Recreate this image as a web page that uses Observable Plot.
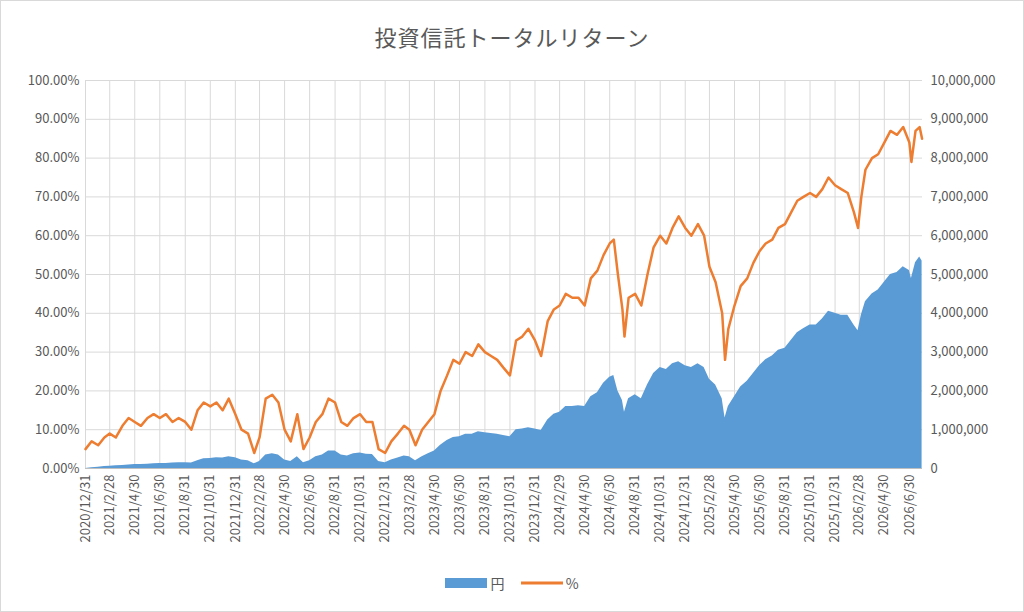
<!DOCTYPE html>
<html><head><meta charset="utf-8">
<script src="https://cdn.jsdelivr.net/npm/d3@7"></script>
<script src="https://cdn.jsdelivr.net/npm/@observablehq/plot@0.6"></script>
<style>
body{margin:0;background:#fff;font-family:"Noto Sans CJK JP",sans-serif;}
#wrap{width:1022px;height:610px;border:1px solid #d9d9d9;position:relative;overflow:hidden}
#title{height:60px;line-height:70px;text-align:center;font-size:22px;color:#595959;letter-spacing:1px}
#legend{position:absolute;top:572px;left:0;width:1022px;text-align:center;font-size:14px;color:#595959}
#legend span{display:inline-flex;align-items:center;margin:0 8px}
</style></head><body>
<div id="wrap"><div id="title">投資信託トータルリターン</div><div id="chart"></div>
<div id="legend"><span><svg width="42" height="12"><rect x="0" y="1" width="42" height="10" fill="#5B9BD5"/></svg>&nbsp;円</span><span><svg width="42" height="12"><line x1="0" x2="42" y1="6" y2="6" stroke="#ED7D31" stroke-width="3"/></svg>&nbsp;%</span></div></div>
<script>
const dates=["2020-12-31","2021-01-15","2021-01-31","2021-02-15","2021-02-28","2021-03-15","2021-03-31","2021-04-15","2021-04-30","2021-05-15","2021-05-31","2021-06-15","2021-06-30","2021-07-15","2021-07-31","2021-08-15","2021-08-31","2021-09-15","2021-09-30","2021-10-15","2021-10-31","2021-11-15","2021-11-30","2021-12-15","2021-12-31","2022-01-15","2022-01-31","2022-02-15","2022-02-28","2022-03-15","2022-03-31","2022-04-15","2022-04-30","2022-05-15","2022-05-31","2022-06-15","2022-06-30","2022-07-15","2022-07-31","2022-08-15","2022-08-31","2022-09-15","2022-09-30","2022-10-15","2022-10-31","2022-11-15","2022-11-30","2022-12-15","2022-12-31","2023-01-15","2023-01-31","2023-02-15","2023-02-28","2023-03-15","2023-03-31","2023-04-15","2023-04-30","2023-05-15","2023-05-31","2023-06-15","2023-06-30","2023-07-15","2023-07-31","2023-08-15","2023-08-31","2023-09-15","2023-09-30","2023-10-15","2023-10-31","2023-11-15","2023-11-30","2023-12-15","2023-12-31","2024-01-15","2024-01-31","2024-02-15","2024-02-29","2024-03-15","2024-03-31","2024-04-15","2024-04-30","2024-05-15","2024-05-31","2024-06-15","2024-06-30","2024-07-10","2024-07-20","2024-07-31","2024-08-05","2024-08-15","2024-08-31","2024-09-15","2024-09-30","2024-10-15","2024-10-31","2024-11-15","2024-11-30","2024-12-15","2024-12-31","2025-01-15","2025-01-31","2025-02-15","2025-02-28","2025-03-15","2025-03-31","2025-04-07","2025-04-15","2025-04-30","2025-05-15","2025-05-31","2025-06-15","2025-06-30","2025-07-15","2025-07-31","2025-08-15","2025-08-31","2025-09-15","2025-09-30","2025-10-15","2025-10-31","2025-11-15","2025-11-30","2025-12-15","2025-12-31","2026-01-15","2026-01-31","2026-02-15","2026-02-25","2026-03-05","2026-03-15","2026-03-31","2026-04-15","2026-04-30","2026-05-15","2026-05-31","2026-06-15","2026-06-30","2026-07-05","2026-07-15","2026-07-25","2026-07-31"];
const pct=[5,7,6,8,9,8,11,13,12,11,13,14,13,14,12,13,12,10,15,17,16,17,15,18,14,10,9,4,8,18,19,17,10,7,14,5,8,12,14,18,17,12,11,13,14,12,12,5,4,7,9,11,10,6,10,12,14,20,24,28,27,30,29,32,30,29,28,26,24,33,34,36,33,29,38,41,42,45,44,44,42,49,51,55,58,59,50,41,34,44,45,42,50,57,60,58,62,65,62,60,63,60,52,48,40,28,36,42,47,49,53,56,58,59,62,63,66,69,70,71,70,72,75,73,72,71,66,62,70,77,80,81,84,87,86,88,84,79,87,88,85];
const yenM=[0,0.02,0.03,0.05,0.06,0.07,0.08,0.09,0.1,0.1,0.11,0.12,0.13,0.13,0.14,0.15,0.15,0.14,0.2,0.25,0.26,0.28,0.27,0.3,0.28,0.22,0.2,0.12,0.18,0.35,0.38,0.35,0.22,0.18,0.3,0.15,0.2,0.3,0.35,0.45,0.45,0.35,0.32,0.38,0.4,0.37,0.36,0.18,0.15,0.22,0.27,0.32,0.3,0.2,0.3,0.38,0.45,0.6,0.72,0.8,0.82,0.88,0.88,0.95,0.92,0.9,0.88,0.85,0.82,1.0,1.02,1.05,1.02,0.98,1.25,1.4,1.45,1.6,1.6,1.62,1.6,1.85,1.95,2.2,2.35,2.4,2.0,1.75,1.45,1.8,1.9,1.8,2.15,2.45,2.6,2.55,2.7,2.75,2.65,2.6,2.7,2.6,2.3,2.15,1.8,1.3,1.6,1.85,2.1,2.25,2.45,2.65,2.8,2.9,3.05,3.1,3.3,3.5,3.6,3.7,3.7,3.85,4.05,4.0,3.95,3.95,3.7,3.55,3.95,4.3,4.5,4.6,4.8,5.0,5.05,5.2,5.1,4.9,5.3,5.45,5.35];
const tickDates=d3.range(0,34).map(i=>new Date(Date.UTC(2021,i*2,0)));
const data=dates.map((d,i)=>({date:new Date(d+"T00:00:00Z"),pct:pct[i],yen:yenM[i]*10}));
const fmtDate=d=>`${d.getUTCFullYear()}/${d.getUTCMonth()+1}/${d.getUTCDate()}`;
const chart=Plot.plot({
  width:1022,height:520,marginLeft:84,marginRight:101,marginTop:19,marginBottom:113,
  style:{fontFamily:"'Noto Sans CJK JP',sans-serif",fontSize:"13px",color:"#595959"},
  x:{type:"utc",domain:[new Date(Date.UTC(2020,11,31)),new Date(Date.UTC(2026,7,1))]},
  y:{domain:[0,100]},
  marks:[
    Plot.ruleY(d3.range(10,101,10),{stroke:"#d9d9d9"}),
    Plot.ruleX(tickDates,{stroke:"#d9d9d9"}),
    Plot.areaY(data,{x:"date",y:"yen",fill:"#5B9BD5"}),
    Plot.lineY(data,{x:"date",y:"pct",stroke:"#ED7D31",strokeWidth:2.5}),
    Plot.ruleY([0],{stroke:"#bfbfbf"}),
    Plot.axisY(d3.range(0,101,10),{anchor:"left",tickSize:0,tickPadding:6,tickFormat:d=>d.toFixed(2)+"%",fontSize:13,label:null}),
    Plot.axisY(d3.range(0,101,10),{anchor:"right",tickSize:0,tickPadding:8,tickFormat:d=>(d*100000).toLocaleString("en-US"),fontSize:13,label:null}),
    Plot.axisX(tickDates,{tickSize:0,tickRotate:-90,tickPadding:6,tickFormat:fmtDate,fontSize:13,label:null})
  ]
});
document.getElementById("chart").appendChild(chart);
</script></body></html>
